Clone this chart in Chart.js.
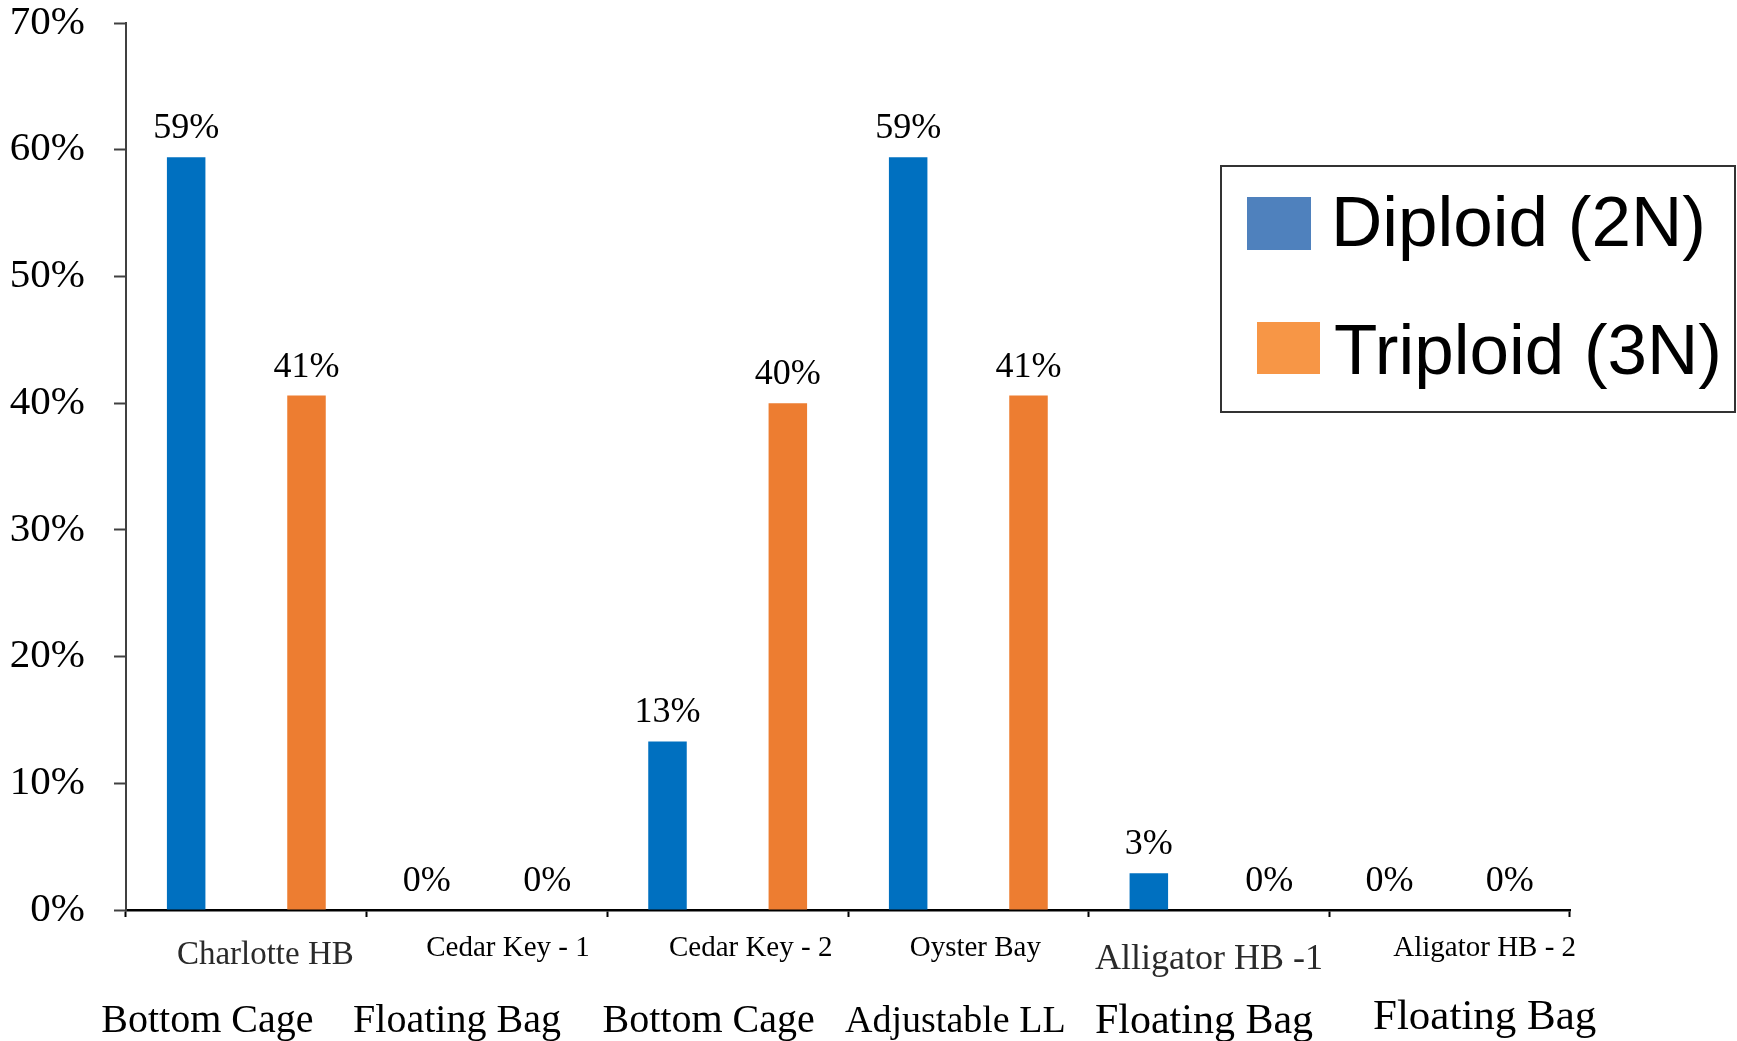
<!DOCTYPE html>
<html lang="en">
<head>
<meta charset="UTF-8">
<title>Diploid vs Triploid by site</title>
<script src="https://cdn.jsdelivr.net/npm/chart.js"></script>
<style>
  body { margin: 0; background: #fff; }
  #chart { display: block; }
</style>
</head>
<body>
<canvas id="chart" width="1737" height="1041"></canvas>
<script>
  // values
  const sites = ["Charlotte HB", "Cedar Key - 1", "Cedar Key - 2", "Oyster Bay", "Alligator HB -1", "Aligator HB - 2"];
  const gear = ["Bottom Cage", "Floating Bag", "Bottom Cage", "Adjustable LL", "Floating Bag", "Floating Bag"];
  const diploid = [59.4, 0, 13.3, 59.4, 2.9, 0];
  const triploid = [40.6, 0, 40.0, 40.6, 0, 0];
  const yTicks = [0, 10, 20, 30, 40, 50, 60, 70];
  const seriesNames = ["Diploid (2N)", "Triploid (3N)"];

  const serif = "'Liberation Serif', 'Times New Roman', serif";

  // label look per category (the source mixes sizes)
  const siteStyle = [
    { size: 33, color: "#2a2a2a", dx: 19, y: 964 },
    { size: 29, color: "#000", dx: 21, y: 956 },
    { size: 29, color: "#000", dx: 23, y: 956 },
    { size: 29, color: "#000", dx: 7, y: 956 },
    { size: 36, color: "#2a2a2a", dx: 0, y: 969 },
    { size: 29, color: "#000", dx: 35, y: 956 }
  ];
  const gearStyle = [
    { size: 40, dx: -39, y: 1032 },
    { size: 40, dx: -30, y: 1032 },
    { size: 40, dx: -19, y: 1032 },
    { size: 38, dx: -13, y: 1032 },
    { size: 42, dx: -5, y: 1033 },
    { size: 43, dx: 35, y: 1029 }
  ];

  const valueLabels = {
    id: 'valueLabels',
    afterDatasetsDraw(chart) {
      const ctx = chart.ctx;
      ctx.save();
      ctx.font = "36px " + serif;
      ctx.fillStyle = "#000";
      ctx.textAlign = "center";
      ctx.textBaseline = "alphabetic";
      chart.data.datasets.forEach((ds, di) => {
        chart.getDatasetMeta(di).data.forEach((bar, i) => {
          ctx.fillText(Math.round(ds.data[i]) + "%", bar.x, bar.y - 19);
        });
      });
      ctx.restore();
    }
  };

  const categoryText = {
    id: 'categoryText',
    afterDraw(chart) {
      const ctx = chart.ctx;
      const x = chart.scales.x;
      ctx.save();
      ctx.textAlign = "center";
      ctx.textBaseline = "alphabetic";
      sites.forEach((s, i) => {
        const st = siteStyle[i];
        ctx.font = st.size + "px " + serif;
        ctx.fillStyle = st.color;
        ctx.fillText(s, x.getPixelForValue(i) + st.dx, st.y);
      });
      gear.forEach((g, i) => {
        const st = gearStyle[i];
        ctx.font = st.size + "px " + serif;
        ctx.fillStyle = "#000";
        ctx.fillText(g, x.getPixelForValue(i) + st.dx, st.y);
      });
      ctx.restore();
    }
  };

  // boxed legend drawn on the right like the original
  const boxLegend = {
    id: 'boxLegend',
    afterDraw(chart) {
      const ctx = chart.ctx;
      ctx.save();
      ctx.strokeStyle = "#333";
      ctx.lineWidth = 2;
      ctx.strokeRect(1221, 166, 514, 246);
      const swatch = [
        { x: 1247, y: 197, w: 64, h: 53, c: "#4F81BD", tx: 1331, ty: 246 },
        { x: 1257, y: 322, w: 63, h: 52, c: "#F79646", tx: 1334, ty: 374 }
      ];
      ctx.font = "71px 'Liberation Sans', Arial, sans-serif";
      ctx.textAlign = "left";
      ctx.textBaseline = "alphabetic";
      seriesNames.forEach((name, i) => {
        const s = swatch[i];
        ctx.fillStyle = s.c;
        ctx.fillRect(s.x, s.y, s.w, s.h);
        ctx.fillStyle = "#000";
        ctx.fillText(name, s.tx, s.ty);
      });
      ctx.restore();
    }
  };

  new Chart(document.getElementById('chart'), {
    type: 'bar',
    data: {
      labels: sites,
      datasets: [
        { label: seriesNames[0], data: diploid, backgroundColor: '#0070C0' },
        { label: seriesNames[1], data: triploid, backgroundColor: '#ED7D31' }
      ]
    },
    options: {
      responsive: false,
      animation: false,
      devicePixelRatio: 1,
      layout: { padding: { top: 23, right: 167, left: 0, bottom: 0 } },
      plugins: { legend: { display: false }, tooltip: { enabled: false } },
      datasets: { bar: { categoryPercentage: 1.0, barPercentage: 0.32 } },
      scales: {
        x: {
          ticks: { display: false },
          grid: { drawOnChartArea: false, drawTicks: true, tickLength: 7, color: '#000', tickWidth: 2, offset: true },
          border: { display: true, color: '#000', width: 2.5 },
          afterFit(s) { s.height = 131; s.paddingLeft = 0; s.paddingRight = 0; }
        },
        y: {
          min: 0,
          max: 70,
          afterBuildTicks(s) { s.ticks = yTicks.map(v => ({ value: v })); },
          ticks: {
            padding: 29,
            color: '#000',
            font: { family: serif, size: 41 },
            callback: v => v + '%'
          },
          grid: { drawOnChartArea: false, drawTicks: true, tickLength: 12, color: '#404040', tickWidth: 2 },
          border: { display: true, color: '#404040', width: 2 },
          afterFit(s) { s.width = 126; s.paddingTop = 0; s.paddingBottom = 0; }
        }
      }
    },
    plugins: [valueLabels, categoryText, boxLegend]
  });
</script>
</body>
</html>
